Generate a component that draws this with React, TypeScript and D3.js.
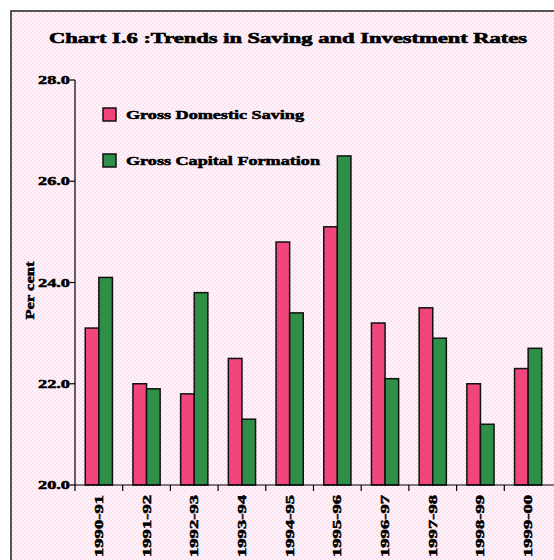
import React from "react";
import * as d3 from "d3";

const categories = ["1990-91", "1991-92", "1992-93", "1993-94", "1994-95", "1995-96", "1996-97", "1997-98", "1998-99", "1999-00"];
const savingValues = [23.1, 22.0, 21.8, 22.5, 24.8, 25.1, 23.2, 23.5, 22.0, 22.3];
const capitalValues = [24.1, 21.9, 23.8, 21.3, 23.4, 26.5, 22.1, 22.9, 21.2, 22.7];
const seriesNames = ["Gross Domestic Saving", "Gross Capital Formation"];
const seriesColors = ["#f0467c", "#2f8f48"];
const yTicks = [20, 22, 24, 26, 28];
const titleText = "Chart I.6 :Trends in Saving and Investment Rates";
const yTitle = "Per cent";

export default function App() {
  const W = 554, H = 560;
  const left = 75, right = 552, top = 80, bottom = 485;
  const y = d3.scaleLinear().domain([20, 28]).range([bottom, top]);
  const x = d3.scaleBand<string>().domain(categories).range([left, right]).paddingInner(0.43).paddingOuter(0.215);
  const x1 = d3.scaleBand<number>().domain([0, 1]).range([0, x.bandwidth()]);
  const step = x.step();
  const font = "'Liberation Serif', 'Times New Roman', serif";
  const series = [savingValues, capitalValues];
  const legendLens = [178, 194];

  return (
    <svg width={W} height={H} style={{ position: "absolute", left: 0, top: 0 }}>
      <defs>
        <pattern id="bg" width="4" height="4" patternUnits="userSpaceOnUse">
          <rect width="4" height="4" fill="#fce2f1" />
          <rect x="0" y="0" width="2" height="2" fill="#fff6fb" />
          <rect x="2" y="2" width="2" height="2" fill="#fff6fb" />
        </pattern>
      </defs>
      <rect x={0} y={0} width={W} height={H} fill="#ffffff" />
      <rect x={11} y={11} width={W + 20} height={H + 20} fill="url(#bg)" stroke="#555" strokeWidth={2} />
      <text x={288} y={43} textAnchor="middle" fontFamily={font} fontWeight="bold" fontSize={14}
        textLength={478} lengthAdjust="spacingAndGlyphs" stroke="#000" strokeWidth={0.6}>{titleText}</text>

      {/* y axis */}
      <line x1={left} x2={left} y1={top} y2={bottom} stroke="#000" strokeWidth={1.2} />
      {yTicks.map((t) => (
        <g key={t}>
          <line x1={left - 5} x2={left} y1={y(t)} y2={y(t)} stroke="#000" strokeWidth={1.2} />
          <text x={left - 5} y={y(t) + 4} textAnchor="end" fontFamily={font} fontWeight="bold" fontSize={12}
            textLength={32} lengthAdjust="spacingAndGlyphs" stroke="#000" strokeWidth={0.5}>{t.toFixed(1)}</text>
        </g>
      ))}
      <text transform={`translate(34, ${y(24) + 8}) rotate(-90)`} textAnchor="middle" fontFamily={font}
        fontWeight="bold" fontSize={12} textLength={58} lengthAdjust="spacingAndGlyphs"
        stroke="#000" strokeWidth={0.5}>{yTitle}</text>

      {/* bars */}
      {categories.map((c, i) => (
        <g key={c} transform={`translate(${x(c)},0)`}>
          {series.map((vals, s) => (
            <rect key={s} x={x1(s)} y={y(vals[i])} width={x1.bandwidth()} height={bottom - y(vals[i])}
              fill={seriesColors[s]} stroke="#111" strokeWidth={1.5} />
          ))}
        </g>
      ))}

      {/* x axis */}
      <line x1={left} x2={W} y1={bottom} y2={bottom} stroke="#000" strokeWidth={1.2} />
      {categories.map((c, i) => (
        <line key={"t" + c} x1={left + i * step} x2={left + i * step} y1={bottom} y2={bottom + 6} stroke="#000" strokeWidth={1.2} />
      ))}
      {categories.map((c) => (
        <text key={"l" + c} transform={`translate(${(x(c) as number) + x.bandwidth() / 2 + 4}, ${bottom + 10}) rotate(-90)`}
          textAnchor="end" fontFamily={font} fontWeight="bold" fontSize={12} textLength={62} lengthAdjust="spacingAndGlyphs"
          stroke="#000" strokeWidth={0.5}>{c}</text>
      ))}

      {/* legend */}
      {seriesNames.map((n, i) => (
        <g key={n} transform={`translate(103, ${108 + i * 46})`}>
          <rect x={0} y={0} width={13} height={13} fill={seriesColors[i]} stroke="#111" strokeWidth={1.5} />
          <text x={23} y={11} fontFamily={font} fontWeight="bold" fontSize={12} textLength={legendLens[i]}
            lengthAdjust="spacingAndGlyphs" stroke="#000" strokeWidth={0.5}>{n}</text>
        </g>
      ))}
    </svg>
  );
}
